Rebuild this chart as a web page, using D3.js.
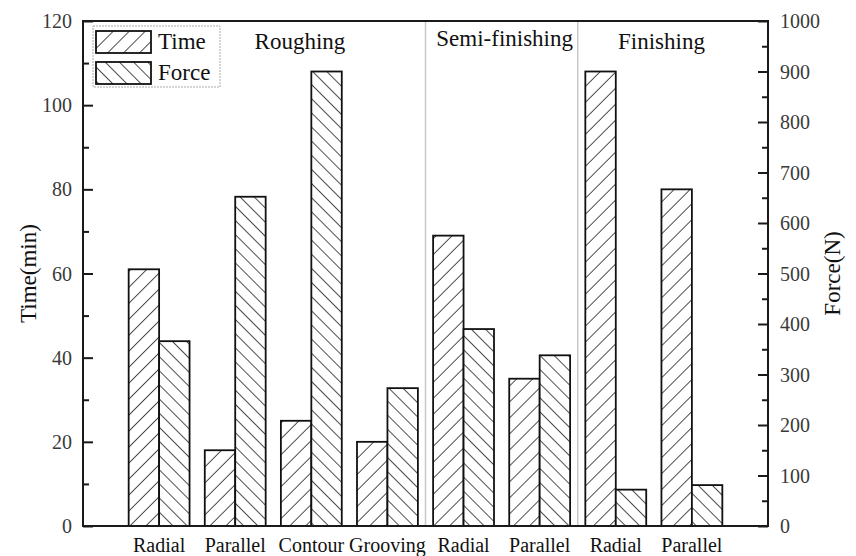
<!DOCTYPE html>
<html>
<head>
<meta charset="utf-8">
<script src="https://cdn.jsdelivr.net/npm/d3@7"></script>
<style>
  html, body { margin: 0; padding: 0; background: #fff; }
</style>
</head>
<body>
<svg id="chart" width="856" height="556" font-family="'Liberation Serif', 'Times New Roman', serif"></svg>
<script>
// Machining strategies, grouped by stage
const categories = ["Radial", "Parallel", "Contour", "Grooving", "Radial", "Parallel", "Radial", "Parallel"];
const stages = ["Roughing", "Semi-finishing", "Finishing"];
// Machining time (min) and cutting force (N) per strategy
const timeMin = [61, 18, 25, 20, 69, 35, 108, 80];
const forceN = [366, 652, 900, 273, 390, 338, 72, 81];
// Axis ticks
const timeTicks = [0, 20, 40, 60, 80, 100, 120];
const forceTicks = [0, 100, 200, 300, 400, 500, 600, 700, 800, 900, 1000];
const seriesNames = ["Time", "Force"];

const svg = d3.select("#chart");
const plotL = 83, plotR = 768, plotT = 21, plotB = 526;

const x = d3.scaleLinear().domain([0, categories.length + 1]).range([plotL, plotR]);
const yT = d3.scaleLinear().domain([0, 120]).range([plotB, plotT]);
const yF = d3.scaleLinear().domain([0, 1000]).range([plotB, plotT]);
const barW = 0.4;

// Hatch patterns
const defs = svg.append("defs");
function hatch(id, angle, gap) {
  const p = defs.append("pattern")
    .attr("id", id)
    .attr("patternUnits", "userSpaceOnUse")
    .attr("width", gap).attr("height", gap)
    .attr("patternTransform", `rotate(${angle})`);
  p.append("rect").attr("width", gap).attr("height", gap).attr("fill", "#fff");
  p.append("line").attr("x1", 0).attr("y1", 0).attr("x2", 0).attr("y2", gap)
    .attr("stroke", "#222").attr("stroke-width", 1.6);
}
hatch("hatchTime", 45, 11.3);
hatch("hatchForce", -45, 10);

// Stage separators
const separators = [4.5, 6.5];
svg.append("g").selectAll("line").data(separators).join("line")
  .attr("x1", d => x(d)).attr("x2", d => x(d))
  .attr("y1", plotT).attr("y2", plotB)
  .attr("stroke", "#c8c8c8").attr("stroke-width", 1.5);

// Bars
const bars = svg.append("g");
bars.selectAll("rect.time").data(timeMin).join("rect")
  .attr("class", "time")
  .attr("x", (d, i) => x(i + 1 - barW))
  .attr("width", (d, i) => x(i + 1) - x(i + 1 - barW))
  .attr("y", d => yT(d))
  .attr("height", d => yT(0) - yT(d))
  .attr("fill", "url(#hatchTime)")
  .attr("stroke", "#111").attr("stroke-width", 1.8);
bars.selectAll("rect.force").data(forceN).join("rect")
  .attr("class", "force")
  .attr("x", (d, i) => x(i + 1))
  .attr("width", (d, i) => x(i + 1 + barW) - x(i + 1))
  .attr("y", d => yF(d))
  .attr("height", d => yF(0) - yF(d))
  .attr("fill", "url(#hatchForce)")
  .attr("stroke", "#111").attr("stroke-width", 1.8);

// Frame
svg.append("rect")
  .attr("x", plotL).attr("y", plotT)
  .attr("width", plotR - plotL).attr("height", plotB - plotT)
  .attr("fill", "none").attr("stroke", "#1a1a1a").attr("stroke-width", 2);

// Left axis (ticks pointing inward)
const axL = svg.append("g").attr("transform", `translate(${plotL},0)`);
axL.call(d3.axisRight(yT).tickValues(timeTicks).tickSize(10).tickFormat(""));
axL.append("g").call(d3.axisRight(yT).tickValues(d3.range(10, 120, 20)).tickSize(6).tickFormat(""));
axL.selectAll(".domain").remove();
axL.selectAll("line").attr("stroke", "#1a1a1a").attr("stroke-width", 2);
svg.append("g").selectAll("text").data(timeTicks).join("text")
  .attr("x", plotL - 11).attr("y", d => yT(d)).attr("dy", "0.35em")
  .attr("text-anchor", "end").attr("font-size", 20).attr("fill", "#3a3a3a")
  .text(d => d);

// Right axis (ticks pointing inward)
const axR = svg.append("g").attr("transform", `translate(${plotR},0)`);
axR.call(d3.axisLeft(yF).tickValues(forceTicks).tickSize(10).tickFormat(""));
axR.append("g").call(d3.axisLeft(yF).tickValues(d3.range(50, 1000, 100)).tickSize(6).tickFormat(""));
axR.selectAll(".domain").remove();
axR.selectAll("line").attr("stroke", "#1a1a1a").attr("stroke-width", 2);
svg.append("g").selectAll("text").data(forceTicks).join("text")
  .attr("x", plotR + 12).attr("y", d => yF(d)).attr("dy", "0.35em")
  .attr("text-anchor", "start").attr("font-size", 20).attr("fill", "#3a3a3a")
  .text(d => d);

// Category labels
svg.append("g").selectAll("text").data(categories).join("text")
  .attr("x", (d, i) => x(i + 1)).attr("y", 552)
  .attr("text-anchor", "middle").attr("font-size", 20).attr("fill", "#111")
  .text(d => d);

// Stage labels
const stageX = [2.85, 5.54, 7.6];
const stageY = [49, 46, 49];
svg.append("g").selectAll("text").data(stages).join("text")
  .attr("x", (d, i) => x(stageX[i])).attr("y", (d, i) => stageY[i])
  .attr("text-anchor", "middle").attr("font-size", 23).attr("fill", "#111")
  .text(d => d);

// Axis titles
svg.append("text")
  .attr("transform", `translate(36,${(plotT + plotB) / 2}) rotate(-90)`)
  .attr("text-anchor", "middle").attr("font-size", 23).attr("fill", "#111")
  .text("Time(min)");
svg.append("text")
  .attr("transform", `translate(840,${(plotT + plotB) / 2}) rotate(-90)`)
  .attr("text-anchor", "middle").attr("font-size", 23).attr("fill", "#111")
  .text("Force(N)");

// Legend
const lg = svg.append("g");
lg.append("rect").attr("x", 93).attr("y", 26).attr("width", 127).attr("height", 61)
  .attr("fill", "#fff").attr("stroke", "#aaa").attr("stroke-width", 1)
  .attr("stroke-dasharray", "2,1");
const fills = ["url(#hatchTime)", "url(#hatchForce)"];
seriesNames.forEach((name, i) => {
  const yy = 31 + i * 31;
  lg.append("rect").attr("x", 96).attr("y", yy).attr("width", 55).attr("height", 22)
    .attr("fill", fills[i]).attr("stroke", "#111").attr("stroke-width", 1.8);
  lg.append("text").attr("x", 158).attr("y", yy + 18)
    .attr("font-size", 23).attr("fill", "#111").text(name);
});
</script>
</body>
</html>
